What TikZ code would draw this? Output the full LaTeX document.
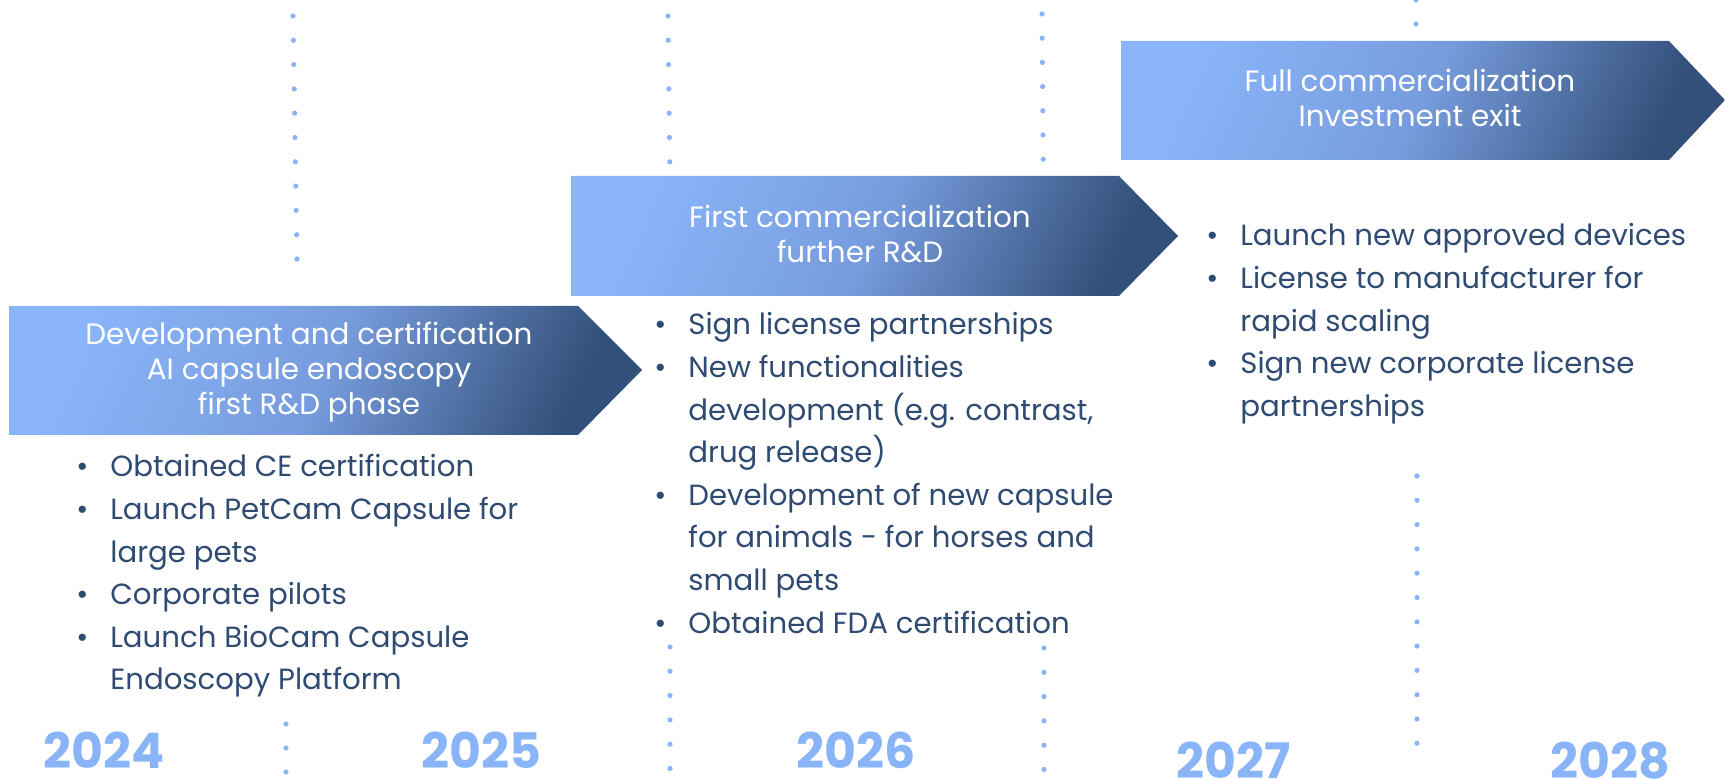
\documentclass[tikz,border=0pt]{standalone}
\usepackage{fontspec}
\setmainfont{Poppins}
\definecolor{gLight}{HTML}{8AB5FA}
\definecolor{gMid}{HTML}{779CDD}
\definecolor{gDark}{HTML}{33507A}
\definecolor{txtBlue}{HTML}{2F4B72}
\definecolor{dotBlue}{HTML}{8AB4F8}
\newcommand{\bl}{\makebox[14pt]{\textbullet}}

\tikzset{
  phase/.style={left color=gLight, right color=gDark, middle color=gMid, shading angle=65},
  hdr/.style={text=white, anchor=base, inner sep=0pt, font=\fontsize{14.7}{17.5}\selectfont},
  blist/.style={text=txtBlue, anchor=base west, inner sep=0pt, font=\fontsize{14.6}{21.3}\selectfont},
  yr/.style={text=dotBlue, anchor=base, inner sep=0pt, font=\fontsize{24.5}{30}\selectfont\bfseries},
  dotfill/.style={fill=dotBlue}
}

\begin{document}
\begin{tikzpicture}[x=0.5pt,y=-0.5pt]
\useasboundingbox (0,0) rectangle (1725,780);

% dotted separators
\foreach \i in {0,...,10} \fill[dotfill] (293+0.4*\i,16+24.3*\i) circle (1.3pt);
\foreach \y in {724,748,772} \fill[dotfill] (286,\y) circle (1.3pt);
\foreach \i in {0,...,6} \fill[dotfill] (668+0.3*\i,16+24.3*\i) circle (1.3pt);
\foreach \i in {0,...,5} \fill[dotfill] (670,647+24.3*\i) circle (1.3pt);
\foreach \i in {0,...,6} \fill[dotfill] (1042+0.2*\i,14+24.2*\i) circle (1.3pt);
\foreach \i in {0,...,5} \fill[dotfill] (1044,648+24.3*\i) circle (1.3pt);
\foreach \y in {0,24} \fill[dotfill] (1416,\y) circle (1.3pt);
\foreach \i in {0,...,11} \fill[dotfill] (1417,476+24.3*\i) circle (1.3pt);

% phase arrows
\shade[phase] (9,306) -- (578,306) -- (642,370) -- (578,435) -- (9,435) -- cycle;
\shade[phase] (571,176) -- (1119,176) -- (1178,236) -- (1119,296) -- (571,296) -- cycle;
\shade[phase] (1121,41) -- (1669,41) -- (1725,100) -- (1669,160) -- (1121,160) -- cycle;

\node[hdr] (head1) at (309,345) {\begin{tabular}[t]{@{}c@{}}Development and certification\\AI capsule endoscopy\\first R\&D phase\end{tabular}};
\node[hdr] (head2) at (860,228) {\begin{tabular}[t]{@{}c@{}}First commercialization\\further R\&D\end{tabular}};
\node[hdr] (head3) at (1410,92) {\begin{tabular}[t]{@{}c@{}}Full commercialization\\Investment exit\end{tabular}};

% bullet lists
\node[blist] (list1) at (68,477) {\begin{tabular}[t]{@{}l@{\hspace{7pt}}l@{}}
\bl & Obtained CE certification\\
\bl & Launch PetCam Capsule for\\
    & large pets\\
\bl & Corporate pilots\\
\bl & Launch BioCam Capsule\\
    & Endoscopy Platform
\end{tabular}};
\node[blist] (list2) at (646,335) {\begin{tabular}[t]{@{}l@{\hspace{7pt}}l@{}}
\bl & Sign license partnerships\\
\bl & New functionalities\\
    & development (e.g. contrast,\\
    & drug release)\\
\bl & Development of new capsule\\
    & for animals - for horses and\\
    & small pets\\
\bl & Obtained FDA certification
\end{tabular}};
\node[blist] (list3) at (1198,246) {\begin{tabular}[t]{@{}l@{\hspace{7pt}}l@{}}
\bl & Launch new approved devices\\
\bl & License to manufacturer for\\
    & rapid scaling\\
\bl & Sign new corporate license\\
    & partnerships
\end{tabular}};

% years
\node[yr] (y2024) at (104,768) {2024};
\node[yr] (y2025) at (481,768) {2025};
\node[yr] (y2026) at (856,768) {2026};
\node[yr] (y2027) at (1234,778) {2027};
\node[yr] (y2028) at (1610,778) {2028};
\end{tikzpicture}
\end{document}
